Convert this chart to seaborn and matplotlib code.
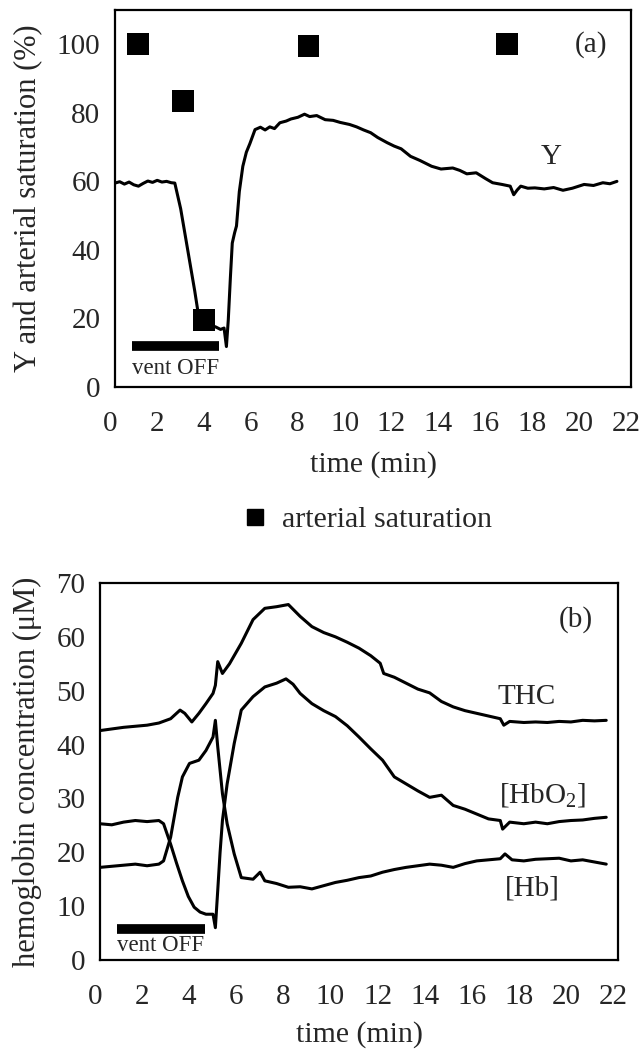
import numpy as np
import pandas as pd
import seaborn as sns
import matplotlib.pyplot as plt
import matplotlib.transforms as mtransforms
from matplotlib.lines import Line2D
from matplotlib.ticker import MultipleLocator

# ---- panel (a): cerebral saturation Y and arterial saturation ----
y_time = [0.0, 0.2, 0.4, 0.6, 0.8, 1.0, 1.2, 1.4, 1.6, 1.8, 2.0, 2.2, 2.4, 2.55,
          2.8, 3.0, 3.2, 3.4, 3.57, 3.7, 3.9, 4.1, 4.3, 4.5, 4.65, 4.75, 4.83,
          4.92, 5.0, 5.1, 5.18, 5.3, 5.45, 5.6, 5.75, 5.97, 6.2, 6.4, 6.6, 6.8,
          7.03, 7.3, 7.5, 7.8, 8.08, 8.3, 8.6, 8.96, 9.3, 9.6, 10.0, 10.3, 10.6,
          10.9, 11.2, 11.6, 11.9, 12.2, 12.6, 13.0, 13.5, 13.9, 14.4, 14.7, 15.0,
          15.4, 15.8, 16.1, 16.5, 16.85, 17.0, 17.15, 17.3, 17.6, 17.9, 18.3,
          18.7, 19.1, 19.5, 20.0, 20.4, 20.8, 21.1, 21.4]
y_sat = [59.5, 59.9, 59.2, 59.8, 59.0, 58.6, 59.4, 60.1, 59.7, 60.3, 59.8, 60.0,
         59.6, 59.5, 52.0, 44.0, 36.0, 28.0, 20.5, 19.8, 18.9, 18.0, 17.5, 16.8,
         17.2, 11.8, 19.6, 32.0, 42.0, 45.0, 47.0, 57.0, 64.4, 68.5, 71.0, 75.1,
         75.8, 75.0, 75.9, 75.4, 77.1, 77.6, 78.2, 78.7, 79.6, 78.9, 79.2, 78.0,
         77.8, 77.2, 76.6, 75.9, 75.0, 74.2, 72.8, 71.3, 70.3, 69.5, 67.3, 66.1,
         64.4, 63.6, 63.9, 63.2, 62.2, 62.5, 60.8, 59.6, 59.1, 58.6, 56.1, 57.5,
         58.6, 58.0, 58.1, 57.8, 58.2, 57.4, 58.0, 59.1, 58.8, 59.6, 59.3, 60.0]

art_time = [1.0, 2.9, 3.8, 8.25, 16.7]
art_sat = [100, 83.5, 19.6, 99.5, 100]

# ---- panel (b): hemoglobin concentrations ----
thc_time = [0.0, 0.5, 1.0, 1.5, 2.0, 2.5, 3.0, 3.2, 3.4, 3.6, 3.9, 4.2, 4.5, 4.8,
            4.9, 5.0, 5.2, 5.5, 6.0, 6.5, 7.0, 7.5, 8.0, 8.5, 9.0, 9.5, 10.0,
            10.5, 11.0, 11.5, 11.9, 12.05, 12.5, 13.0, 13.5, 14.0, 14.5, 15.0,
            15.5, 16.0, 16.5, 17.0, 17.15, 17.4, 18.0, 18.5, 19.0, 19.5, 20.0,
            20.5, 21.0, 21.5]
thc = [42.6, 42.9, 43.2, 43.4, 43.6, 44.0, 44.8, 45.6, 46.4, 45.8, 44.2, 45.8,
       47.6, 49.5, 51.0, 55.4, 53.2, 55.0, 58.8, 63.2, 65.3, 65.6, 66.0, 63.8,
       61.9, 60.8, 60.0, 59.0, 57.9, 56.5, 55.1, 53.2, 52.5, 51.4, 50.3, 49.6,
       48.0, 47.0, 46.3, 45.8, 45.3, 44.8, 43.6, 44.3, 44.1, 44.2, 44.1, 44.3,
       44.2, 44.5, 44.4, 44.5]

hbo2_time = [0.0, 0.5, 1.0, 1.5, 2.0, 2.5, 2.7, 3.0, 3.25, 3.5, 3.75, 4.0, 4.25,
             4.5, 4.8, 4.9, 5.0, 5.1, 5.2, 5.4, 5.7, 6.0, 6.5, 7.0, 7.5, 7.9,
             8.2, 8.5, 9.0, 9.5, 10.0, 10.5, 11.0, 11.5, 12.0, 12.5, 13.0, 13.5,
             14.0, 14.5, 15.0, 15.5, 16.0, 16.5, 17.0, 17.1, 17.4, 18.0, 18.5,
             19.0, 19.5, 20.0, 20.5, 21.0, 21.5]
hbo2 = [25.3, 25.1, 25.6, 25.9, 25.7, 25.9, 25.3, 21.5, 18.0, 14.7, 11.8, 9.8,
        8.9, 8.5, 8.5, 6.0, 12.9, 20.0, 25.9, 32.7, 40.2, 46.4, 48.9, 50.7, 51.4,
        52.2, 51.2, 49.5, 47.6, 46.3, 45.2, 43.5, 41.4, 39.2, 37.1, 34.0, 32.7,
        31.4, 30.2, 30.6, 28.7, 28.0, 27.1, 26.2, 25.9, 24.3, 25.6, 25.3, 25.6,
        25.3, 25.7, 25.9, 26.0, 26.3, 26.5]

hb_time = [0.0, 0.5, 1.0, 1.5, 2.0, 2.5, 2.7, 3.0, 3.3, 3.5, 3.8, 4.2, 4.5, 4.8,
           4.9, 5.0, 5.2, 5.4, 5.7, 6.0, 6.5, 6.8, 7.0, 7.5, 8.0, 8.5, 9.0, 9.5,
           10.0, 10.5, 11.0, 11.5, 12.0, 12.5, 13.0, 13.5, 14.0, 14.5, 15.0,
           15.5, 16.0, 16.5, 17.0, 17.2, 17.5, 18.0, 18.5, 19.0, 19.5, 20.0,
           20.5, 21.0, 21.5]
hb = [17.2, 17.4, 17.6, 17.8, 17.5, 17.8, 18.4, 22.8, 30.2, 34.0, 36.5, 37.1,
      38.9, 41.4, 44.5, 39.6, 30.9, 25.3, 19.7, 15.3, 15.0, 16.3, 14.7, 14.2,
      13.5, 13.6, 13.2, 13.8, 14.4, 14.8, 15.3, 15.6, 16.3, 16.8, 17.2, 17.5,
      17.8, 17.6, 17.2, 17.9, 18.4, 18.6, 18.8, 19.7, 18.6, 18.4, 18.7, 18.8,
      18.9, 18.4, 18.6, 18.2, 17.8]

vent_off = [0.72, 4.44]

sns.set_style("white")
plt.rcParams['font.family'] = ['Liberation Serif', 'DejaVu Serif']
plt.rcParams['mathtext.fontset'] = 'custom'
plt.rcParams['mathtext.rm'] = 'Liberation Serif'

TICK_FS = 21
LABEL_FS = 22
NOTE_FS = 21
fig = plt.figure(figsize=(6.43, 10.49), dpi=100)
ax1 = fig.add_axes([115 / 643, 1 - 387 / 1049, 516 / 643, 377 / 1049])
ax2 = fig.add_axes([100 / 643, 1 - 960 / 1049, 518 / 643, 377 / 1049])

# panel (a)
sns.lineplot(x=y_time, y=y_sat, ax=ax1, color="black", lw=2.2)
sns.scatterplot(x=art_time, y=art_sat, ax=ax1, marker="s", s=250,
                color="black", edgecolor="none", zorder=3)
ax1.plot(vent_off, [12, 12], color="black", lw=7, solid_capstyle="butt")
ax1.text(vent_off[0], 5.5, "vent OFF", fontsize=16.5, va="center", ha="left")
ax1.text(18.6, 67, "Y", fontsize=NOTE_FS, ha="center", va="center")
ax1.text(20.3, 100, "(a)", fontsize=NOTE_FS, ha="center", va="center")
ax1.set_xlim(0, 22)
ax1.set_ylim(0, 110)
ax1.set_yticks([0, 20, 40, 60, 80, 100])
ax1.yaxis.set_minor_locator(MultipleLocator(10))
ax1.set_xlabel("time (min)", fontsize=21.5, labelpad=10)
ax1.set_ylabel("Y and arterial saturation (%)", fontsize=LABEL_FS, labelpad=10)

# panel (b)
sns.lineplot(x=thc_time, y=thc, ax=ax2, color="black", lw=2.2)
sns.lineplot(x=hbo2_time, y=hbo2, ax=ax2, color="black", lw=2.2)
sns.lineplot(x=hb_time, y=hb, ax=ax2, color="black", lw=2.2)
ax2.plot(vent_off, [5.8, 5.8], color="black", lw=7, solid_capstyle="butt")
ax2.text(vent_off[0], 2.6, "vent OFF", fontsize=16.5, va="center", ha="left")
ax2.text(18.1, 48.9, "THC", fontsize=NOTE_FS, ha="center", va="center")
ax2.text(18.8, 30.5, "[HbO$_2$]", fontsize=NOTE_FS, ha="center", va="center")
ax2.text(18.35, 13.2, "[Hb]", fontsize=NOTE_FS, ha="center", va="center")
ax2.text(20.2, 63.2, "(b)", fontsize=NOTE_FS, ha="center", va="center")
ax2.set_xlim(0, 22)
ax2.set_ylim(0, 70)
ax2.set_yticks(range(0, 71, 10))
ax2.set_xlabel("time (min)", fontsize=21.5, labelpad=8)
ax2.set_ylabel("hemoglobin concentration (μM)", fontsize=LABEL_FS, labelpad=10)

shift = mtransforms.ScaledTranslation(-5 / 100, 0, fig.dpi_scale_trans)
for ax in (ax1, ax2):
    ax.set_xticks(range(0, 23, 2))
    ax.tick_params(axis="both", which="major", labelsize=TICK_FS, direction="in",
                   length=3, width=0.6, color="0.6")
    ax.tick_params(axis="x", which="major", pad=17.5)
    ax.tick_params(axis="y", which="major", pad=10.5)
    ax.tick_params(axis="y", which="minor", direction="in", length=2,
                   width=0.6, color="0.6")
    for lab in ax.get_xticklabels():
        lab.set_transform(lab.get_transform() + shift)
    for sp in ax.spines.values():
        sp.set_linewidth(1.6)
        sp.set_color("black")

handle = Line2D([], [], marker="s", ls="none", color="black", markersize=11)
fig.legend([handle], ["arterial saturation"], loc="center",
           bbox_to_anchor=(366 / 643, 1 - 520 / 1049), frameon=False,
           fontsize=21.5, handletextpad=0.4, handlelength=1.0)

fig.savefig("out.png", dpi=100)
